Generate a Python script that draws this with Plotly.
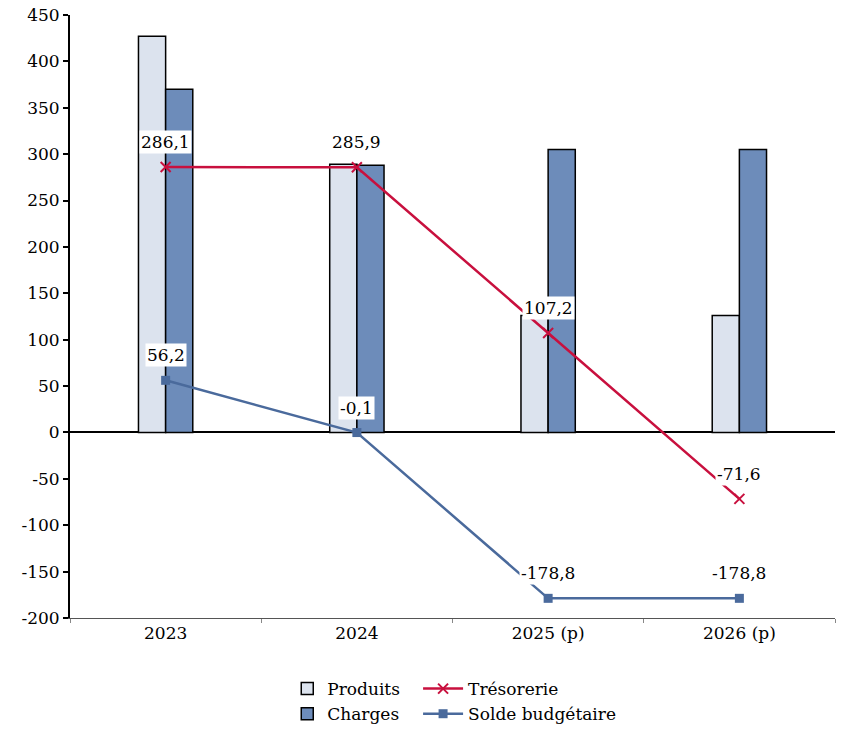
import plotly.graph_objects as go

categories = ["2023", "2024", "2025 (p)", "2026 (p)"]
produits = [427, 289, 126, 126]
charges = [370, 288, 305, 305]
tresorerie = [286.1, 285.9, 107.2, -71.6]
solde = [56.2, -0.1, -178.8, -178.8]
y_ticks = [-200, -150, -100, -50, 0, 50, 100, 150, 200, 250, 300, 350, 400, 450]

FONT = "DejaVu Serif"
RED = "#c8103e"
BLUE_LINE = "#4a6a9c"

def fr(v):
    return f"{v:.1f}".replace(".", ",")

fig = go.Figure()
fig.add_trace(go.Bar(x=categories, y=produits, name="Produits",
                     marker=dict(color="#dce3ee", line=dict(color="black", width=1.5)),
                     legend="legend"))
fig.add_trace(go.Bar(x=categories, y=charges, name="Charges",
                     marker=dict(color="#6d8cba", line=dict(color="black", width=1.5)),
                     legend="legend"))
fig.add_trace(go.Scatter(x=categories, y=tresorerie, name="Trésorerie", mode="lines+markers",
                         line=dict(color=RED, width=2.5),
                         marker=dict(symbol="x-thin", size=10, line=dict(color=RED, width=2)),
                         legend="legend2"))
fig.add_trace(go.Scatter(x=categories, y=solde, name="Solde budgétaire", mode="lines+markers",
                         line=dict(color=BLUE_LINE, width=2.5),
                         marker=dict(symbol="square", size=9, color=BLUE_LINE),
                         legend="legend2"))

for series in (tresorerie, solde):
    for i, v in enumerate(series):
        fig.add_annotation(x=i, y=v, text=fr(v), showarrow=False, yshift=25,
                           bgcolor="white", borderpad=1,
                           font=dict(family=FONT, size=17, color="black"))

fig.update_layout(
    width=852, height=748,
    margin=dict(l=70, r=17, t=15, b=130, autoexpand=False),
    paper_bgcolor="white", plot_bgcolor="white",
    barmode="group", bargap=0.716, bargroupgap=0,
    font=dict(family=FONT, size=17, color="black"),
    showlegend=True,
    legend=dict(x=0.284, y=-0.088, xanchor="left", yanchor="top", tracegroupgap=0,
                font=dict(family=FONT, size=17), itemwidth=30, bgcolor="rgba(0,0,0,0)"),
    legend2=dict(x=0.455, y=-0.088, xanchor="left", yanchor="top", tracegroupgap=0,
                 font=dict(family=FONT, size=17), itemwidth=40, bgcolor="rgba(0,0,0,0)"),
)
fig.update_yaxes(range=[-200, 450], tickvals=y_ticks, ticktext=[str(t) for t in y_ticks],
                 showgrid=False, zeroline=True,
                 zerolinecolor="black", zerolinewidth=2,
                 showline=True, linecolor="black", linewidth=2,
                 ticks="outside", ticklen=5, tickwidth=2, tickcolor="black",
                 tickfont=dict(family=FONT, size=17))
fig.update_xaxes(type="category", categoryorder="array", categoryarray=categories,
                 range=[-0.5, 3.5],
                 showgrid=False, showline=True, linecolor="#555555", linewidth=1,
                 ticks="outside", tickson="boundaries", ticklen=4, tickcolor="#888888",
                 tickangle=0, tickfont=dict(family=FONT, size=17))

fig.write_html("out.html", config={"displayModeBar": False},
               post_script="document.body.style.margin='0';")
